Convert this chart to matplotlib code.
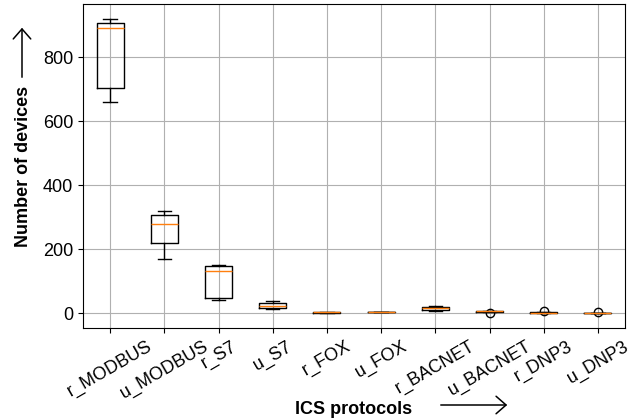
import matplotlib
matplotlib.use("Agg")
import matplotlib.pyplot as plt

plt.rcParams['font.family'] = ['Liberation Sans', 'DejaVu Sans']
plt.rcParams['font.size'] = 13

# device counts per protocol
protocols = ['r_MODBUS', 'u_MODBUS', 'r_S7', 'u_S7', 'r_FOX', 'u_FOX',
             'r_BACNET', 'u_BACNET', 'r_DNP3', 'u_DNP3']
r_modbus = [661, 703, 891, 907, 921]
u_modbus = [171, 221, 279, 307, 321]
r_s7 = [40, 47, 132, 149, 152]
u_s7 = [12, 15, 23, 31, 38]
r_fox = [2, 2, 3, 4, 4]
u_fox = [3, 3, 4, 5, 5]
r_bacnet = [8, 11, 16, 20, 23]
u_bacnet = [1, 5, 6, 7, 8]
r_dnp3 = [1, 2, 2, 3, 6]
u_dnp3 = [0, 0, 0, 1, 4]

data = [r_modbus, u_modbus, r_s7, u_s7, r_fox, u_fox,
        r_bacnet, u_bacnet, r_dnp3, u_dnp3]

fig = plt.figure(figsize=(6.42, 4.18), dpi=100)
ax = fig.add_axes([83/642, 1 - 328/418, 542/642, 324/418])

ax.boxplot(data)
ax.set_xticks(range(1, len(protocols) + 1))
ax.set_xticklabels(protocols, rotation=30)
ax.grid(True)

ax.set_xlabel('ICS protocols', fontweight='bold', labelpad=-1)
ax.set_ylabel('Number of devices', fontweight='bold', labelpad=8)

# long arrows next to the axis labels
arrow = dict(arrowstyle='->, head_length=0.4, head_width=0.35', lw=1.1,
             color='black', mutation_scale=18)
ax.annotate('', xy=(510, 13), xytext=(438, 13), xycoords='figure pixels',
            textcoords='figure pixels', arrowprops=arrow)
ax.annotate('', xy=(22, 393), xytext=(22, 338), xycoords='figure pixels',
            textcoords='figure pixels', arrowprops=arrow)

fig.savefig('out.png', dpi=100)
